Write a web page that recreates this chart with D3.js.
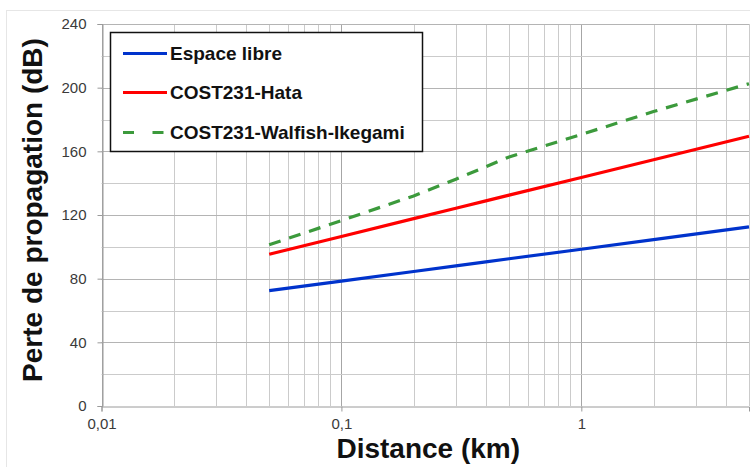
<!DOCTYPE html>
<html>
<head>
<meta charset="utf-8">
<script src="https://cdn.jsdelivr.net/npm/d3@7"></script>
<style>
  html, body { margin: 0; padding: 0; background: #fff; }
  svg { display: block; }
  text { font-family: "Liberation Sans", Arial, sans-serif; }
</style>
</head>
<body>
<svg id="chart" width="750" height="467"></svg>
<script>
// ---- Data ----
const distances   = [0.05, 0.1, 0.2, 0.3, 0.4, 0.5, 1, 2, 5];          // km
const espaceLibre = [72.5, 78.5, 84.5, 88.0, 90.5, 92.5, 98.5, 104.5, 112.5];
const costHata    = [95.3, 106.5, 117.7, 124.2, 128.9, 132.5, 143.6, 154.7, 169.5];
const costWalfish = [101.3, 116.5, 132.0, 142.5, 150.3, 156.5, 170.6, 185.0, 202.5];

const seriesNames = ["Espace libre", "COST231-Hata", "COST231-Walfish-Ikegami"];
const seriesColors = ["#0033cc", "#ff0000", "#3c9a3c"];
const seriesValues = [espaceLibre, costHata, costWalfish];

const xTickValues = [0.01, 0.1, 1];
const xTickLabels = ["0,01", "0,1", "1"];
const yTickValues = [0, 40, 80, 120, 160, 200, 240];
const yMinorValues = [20, 60, 100, 140, 180, 220];

const xTitle = "Distance (km)";
const yTitle = "Perte de propagation (dB)";

// ---- Layout ----
const svg = d3.select("#chart");
const W = 750, H = 467;
const mLeft = 101.5, mRight = 749, mTop = 24, mBottom = 406;

const x = d3.scaleLog().domain([0.01, 5]).range([mLeft, mRight]);
const y = d3.scaleLinear().domain([0, 240]).range([mBottom, mTop]);

// outer light frame
svg.append("rect")
  .attr("x", 6.5).attr("y", 10.5).attr("width", W).attr("height", H)
  .attr("fill", "none").attr("stroke", "#e6e6e6").attr("stroke-width", 1);

// ---- Grid ----
const grid = svg.append("g");
const vTicks = x.ticks();
grid.selectAll("line.v").data(vTicks).join("line")
  .attr("class", "v")
  .attr("x1", d => Math.round(x(d)) + 0.5).attr("x2", d => Math.round(x(d)) + 0.5)
  .attr("y1", mTop).attr("y2", mBottom)
  .attr("stroke", d => xTickValues.some(t => Math.abs(t - d) < 1e-9) ? "#a6a6a6" : "#cbcbcb")
  .attr("stroke-width", 1);

grid.selectAll("line.hmin").data(yMinorValues).join("line")
  .attr("class", "hmin")
  .attr("x1", mLeft).attr("x2", mRight)
  .attr("y1", d => Math.round(y(d)) + 0.5).attr("y2", d => Math.round(y(d)) + 0.5)
  .attr("stroke", "#cbcbcb").attr("stroke-width", 1);

grid.selectAll("line.hmaj").data(yTickValues.filter(v => v > 0)).join("line")
  .attr("class", "hmaj")
  .attr("x1", mLeft).attr("x2", mRight)
  .attr("y1", d => Math.round(y(d)) + 0.5).attr("y2", d => Math.round(y(d)) + 0.5)
  .attr("stroke", "#b4b4b4").attr("stroke-width", 1);

// ---- Axes ----
const yAxis = d3.axisLeft(y).tickValues(yTickValues).tickSize(5).tickPadding(11)
  .tickFormat(d3.format("d"));
const gy = svg.append("g").attr("transform", `translate(${Math.round(mLeft) + 0.5},0)`).call(yAxis);
gy.select(".domain").attr("stroke", "#9a9a9a");
gy.selectAll(".tick line").attr("stroke", "#9a9a9a");
gy.selectAll(".tick text").attr("font-size", 15).attr("fill", "#3a3a3a")
  .attr("font-family", "'Liberation Sans', Arial, sans-serif");

const xAxis = d3.axisBottom(x).tickValues(xTickValues).tickSize(5).tickPadding(7)
  .tickFormat((d, i) => xTickLabels[i]);
const gx = svg.append("g").attr("transform", `translate(0,${Math.round(mBottom) + 0.5})`).call(xAxis);
gx.select(".domain").attr("stroke", "#9a9a9a");
gx.selectAll(".tick line").attr("stroke", "#9a9a9a");
gx.selectAll(".tick text").attr("font-size", 15).attr("fill", "#3a3a3a")
  .attr("font-family", "'Liberation Sans', Arial, sans-serif");

// ---- Series ----
const line = d3.line().x(d => x(d[0])).y(d => y(d[1]));
seriesValues.forEach((vals, i) => {
  svg.append("path")
    .datum(distances.map((d, j) => [d, vals[j]]))
    .attr("d", line)
    .attr("fill", "none")
    .attr("stroke", seriesColors[i])
    .attr("stroke-width", 3.2)
    .attr("stroke-dasharray", i === 2 ? "12,9" : null);
});

// ---- Legend ----
const lg = svg.append("g");
lg.append("rect").attr("x", 110.5).attr("y", 32.5).attr("width", 312).attr("height", 119)
  .attr("fill", "#fff").attr("stroke", "#111").attr("stroke-width", 1.5);
const legendY = [53.5, 92.5, 132.5];
seriesNames.forEach((name, i) => {
  lg.append("line")
    .attr("x1", 123).attr("x2", 167)
    .attr("y1", legendY[i]).attr("y2", legendY[i])
    .attr("stroke", seriesColors[i]).attr("stroke-width", 3.2)
    .attr("stroke-dasharray", i === 2 ? "11,18.5" : null);
  lg.append("text")
    .attr("x", 170).attr("y", legendY[i] + 6.8)
    .attr("font-size", 19).attr("font-weight", "bold").attr("fill", "#111")
    .text(name);
});

// ---- Titles ----
svg.append("text")
  .attr("x", (mLeft + mRight) / 2 + 3).attr("y", 458)
  .attr("text-anchor", "middle")
  .attr("font-size", 28).attr("font-weight", "bold").attr("fill", "#111")
  .text(xTitle);

svg.append("text")
  .attr("transform", "translate(42,210) rotate(-90)")
  .attr("text-anchor", "middle")
  .attr("font-size", 28).attr("font-weight", "bold").attr("fill", "#111")
  .text(yTitle);
</script>
</body>
</html>
